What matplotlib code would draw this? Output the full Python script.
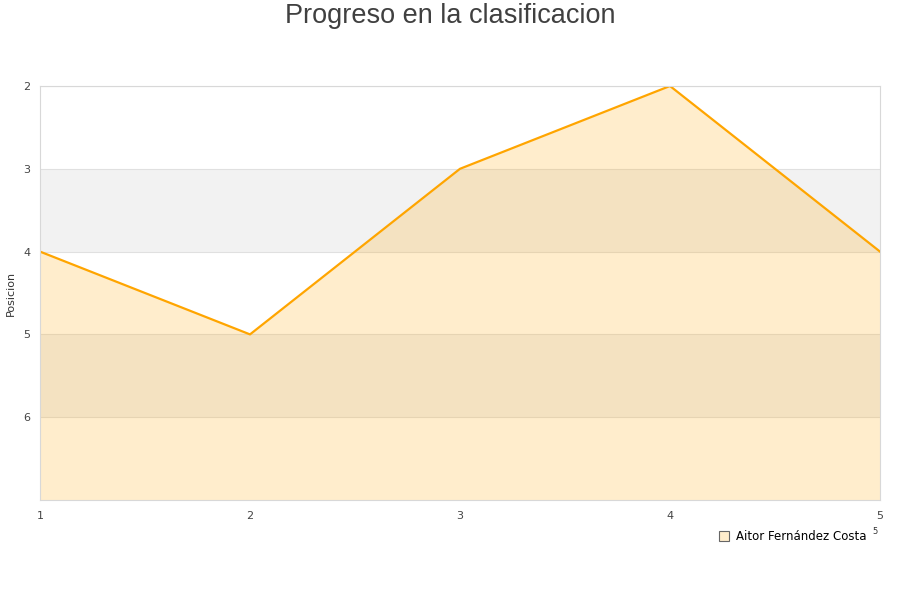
import matplotlib
matplotlib.use("Agg")
import matplotlib.pyplot as plt
from matplotlib.lines import Line2D

# Datos de la clasificacion
jornadas = [1, 2, 3, 4, 5]
posiciones = [4, 5, 3, 2, 4]
jugador = "Aitor Fernández Costa"
titulo = "Progreso en la clasificacion"

plt.rcParams['font.family'] = ['DejaVu Sans']

fig = plt.figure(figsize=(9, 6), dpi=100)
ax = fig.add_axes([40 / 900, 100 / 600, 840 / 900, 414 / 600])

y_min, y_max = 2, 7
# Bandas alternas de la rejilla
for i, y0 in enumerate(range(y_min, y_max)):
    if i % 2 == 1:
        ax.axhspan(y0, y0 + 1, color='#f2f2f2', zorder=0, lw=0)
    ax.axhline(y0, color='#e0e0e0', lw=0.8, zorder=0.5)

ax.fill_between(jornadas, posiciones, y_max, color='#ffa500', alpha=0.2, lw=0, zorder=1)
ax.plot(jornadas, posiciones, color='#ffa500', lw=1.6, zorder=2)

ax.set_xlim(1, 5)
ax.set_ylim(y_max, y_min)
ax.set_xticks(jornadas)
ax.set_yticks(range(2, 7))
ax.tick_params(length=0, labelsize=8, labelcolor='#444444', pad=8)
ax.tick_params(axis='y', pad=7)
for s in ax.spines.values():
    s.set_color('#d8d8d8')
    s.set_linewidth(0.8)

ax.set_ylabel('Posicion', fontsize=8, color='#333333')
ax.yaxis.set_label_coords(-24 / 840, 0.5)

fig.text(0.5, 1 - 16 / 600, titulo, ha='center', va='center', fontsize=19.5,
         color='#404040', family='Liberation Sans')

handle = Line2D([], [], marker='s', linestyle='none', markersize=7,
                markerfacecolor='#ffedcc', markeredgecolor='#666666', markeredgewidth=0.8)
fig.legend([handle], [jugador], loc='center left', bbox_to_anchor=(712 / 900, 1 - 537 / 600),
           frameon=False, fontsize=8.5, handletextpad=0.5, borderpad=0, handlelength=1)
fig.text(875 / 900, 1 - 532 / 600, '5', fontsize=6, color='#333333', ha='center', va='center')

fig.savefig('out.png', dpi=100)
